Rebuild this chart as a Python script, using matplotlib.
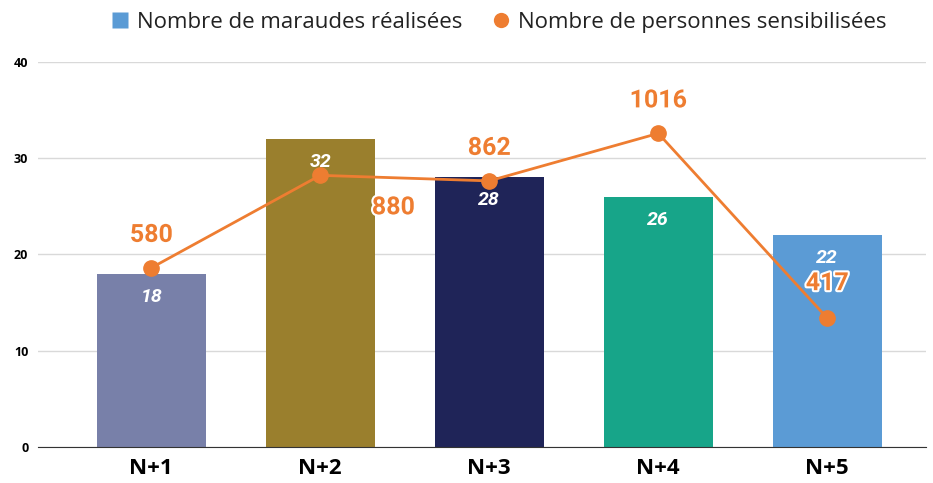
import matplotlib.pyplot as plt
from matplotlib.lines import Line2D
import matplotlib.patheffects as pe

annees = ['N+1', 'N+2', 'N+3', 'N+4', 'N+5']
maraudes = [18, 32, 28, 26, 22]
personnes = [580, 880, 862, 1016, 417]
couleurs = ['#7880a9', '#9a7f2d', '#1f2458', '#17a589', '#5b9bd5']
orange = '#ee7d31'

fig = plt.figure(figsize=(9.33, 4.83), dpi=100)
ax = fig.add_axes([0.0407, 0.075, 0.952, 0.797])
x = range(len(annees))

# barres : nombre de maraudes
ax.bar(x, maraudes, width=0.645, color=couleurs, zorder=2)
for i, v in enumerate(maraudes):
    ax.text(i, v - 2.4, str(v), ha='center', va='center', color='white',
            fontsize=14, fontweight='bold', fontstyle='italic', family='Roboto', zorder=3)

ax.set_ylim(0, 40)
ax.set_xlim(-0.67, 4.585)
ax.set_yticks([0, 10, 20, 30, 40])
ax.grid(axis='y', color='#d9d9d9', linewidth=1, zorder=0)
for s in ['top', 'right', 'left']:
    ax.spines[s].set_visible(False)
ax.spines['bottom'].set_color('#333333')
ax.tick_params(axis='y', length=0, labelsize=9, pad=7)
ax.tick_params(axis='x', length=0, labelsize=16, pad=8)
ax.set_xticks(list(x))
ax.set_xticklabels(annees, fontweight='bold', family='Open Sans')
for t in ax.get_yticklabels():
    t.set_fontweight('bold')
    t.set_family('Open Sans')

# courbe : personnes sensibilisées (axe secondaire masqué)
ax2 = ax.twinx()
ax2.set_ylim(0, 1248)
ax2.axis('off')
ax2.plot(list(x), personnes, color=orange, linewidth=2, marker='o', markersize=11, zorder=4)

decalages = [(0, 33), (73, -32), (0, 33), (0, 33), (0, 35)]
for i, v in enumerate(personnes):
    dx, dy = decalages[i]
    ax2.annotate(str(v), (i, v), xytext=(dx, dy), textcoords='offset pixels',
                 ha='center', va='center', color=orange, fontsize=18, fontweight='bold',
                 family='Roboto', zorder=5,
                 path_effects=[pe.withStroke(linewidth=3, foreground='white')])

handles = [Line2D([], [], marker='s', color='none', markerfacecolor='#5b9bd5', markeredgecolor='none', markersize=11),
           Line2D([], [], marker='o', color='none', markerfacecolor=orange, markeredgecolor='none', markersize=11)]
fig.legend(handles, ['Nombre de maraudes réalisées', 'Nombre de personnes sensibilisées'],
           loc='center', bbox_to_anchor=(0.535, 0.953), ncol=2, frameon=False,
           prop={'family': 'Open Sans', 'size': 16}, handlelength=0.7, handletextpad=0.4,
           columnspacing=1.4, labelcolor='#222222')

fig.savefig('out.png', dpi=100)
